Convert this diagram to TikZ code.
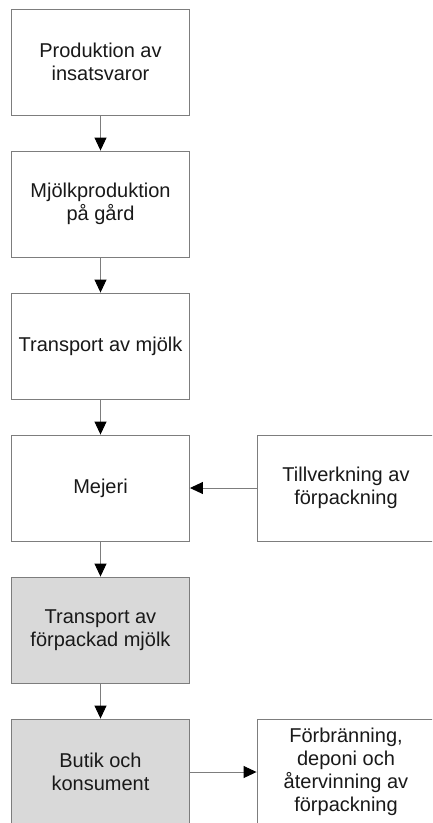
\documentclass[tikz,border=0pt]{standalone}
\usepackage{fontspec}
\setmainfont{Liberation Sans}
\usetikzlibrary{arrows.meta}
\definecolor{boxline}{RGB}{125,125,125}
\definecolor{boxgray}{RGB}{217,217,217}
\definecolor{txt}{RGB}{25,25,25}
\tikzset{
  stepbox/.style={draw=boxline, line width=0.9pt, fill=white, minimum width=178pt, minimum height=106pt,
    inner sep=0pt, align=center, text=txt, font=\fontsize{20}{23}\selectfont},
  graybox/.style={stepbox, fill=boxgray},
  flow/.style={draw=boxline, line width=0.9pt, -{Triangle[color=black,length=13pt,width=12pt]}}
}
\begin{document}
\begin{tikzpicture}[x=1pt,y=-1pt]
\useasboundingbox (0,0) rectangle (432,823);
\clip (0,0) rectangle (432,823);
\fill[white] (0,0) rectangle (432,823);
\node[stepbox] (a) at (100.5,62) {Produktion av\\insatsvaror};
\node[stepbox] (b) at (100.5,204) {Mjölkproduktion\\på gård};
\node[stepbox] (c) at (100.5,346) {Transport av mjölk};
\node[stepbox] (d) at (100.5,488) {Mejeri};
\node[graybox] (e) at (100.5,630) {Transport av\\förpackad mjölk};
\node[graybox] (f) at (100.5,772) {Butik och\\konsument};
\node[stepbox] (g) at (346,488) {Tillverkning av\\förpackning};
\node[stepbox] (h) at (346,772) {Förbränning,\\deponi och\\återvinning av\\förpackning};
\draw[flow] (a) -- (b);
\draw[flow] (b) -- (c);
\draw[flow] (c) -- (d);
\draw[flow] (d) -- (e);
\draw[flow] (e) -- (f);
\draw[flow] (g) -- (d);
\draw[flow] (f) -- (h);
\end{tikzpicture}
\end{document}
